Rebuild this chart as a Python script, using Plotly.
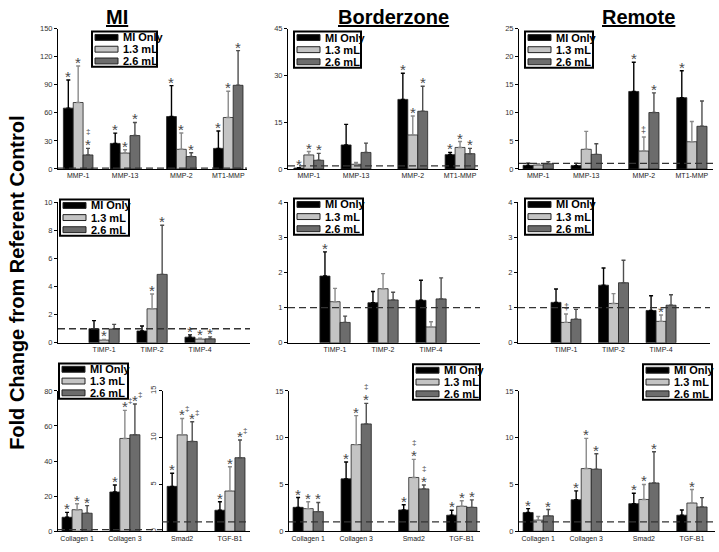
import plotly.graph_objects as go

W, H = 719, 552
FONT = "Liberation Sans, Arial, sans-serif"

# ---------------- data ----------------
series_names = ["MI Only", "1.3 mL", "2.6 mL"]
mmp_labels = ["MMP-1", "MMP-13", "MMP-2", "MT1-MMP"]
timp_labels = ["TIMP-1", "TIMP-2", "TIMP-4"]
ecm_labels = ["Collagen 1", "Collagen 3", "Smad2", "TGF-B1"]

# MI region - MMPs
mi_mmp_mean = [[65, 27.3, 56, 22], [71, 17, 21, 55], [15, 35.7, 13.3, 89.4]]
mi_mmp_err = [[30, 11, 33, 18.5], [39, 3.5, 17.5, 28], [7, 14, 4, 37]]
mi_mmp_sig = [["*", "*", "*", "*"], ["*", "*", "*", "*"], ["‡/*", "*", "*", "*"]]

# Borderzone - MMPs
bz_mmp_mean = [[0.3, 7.7, 22.3, 4.6], [4.5, 1.5, 10.9, 6.9], [2.8, 5.3, 18.5, 4.9]]
bz_mmp_err = [[0.1, 6.6, 8.4, 0.7], [1.1, 0.6, 6.1, 1.9], [2.2, 3.0, 8.0, 1.7]]
bz_mmp_sig = [["*", "", "*", "*"], ["*", "", "*", "*"], ["*", "", "*", "*"]]

# Remote - MMPs
r_mmp_mean = [[0.65, 0.6, 13.8, 12.7], [0.7, 3.5, 3.2, 4.85], [0.93, 2.6, 10.05, 7.6]]
r_mmp_err = [[0.4, 0.4, 5.2, 4.8], [0.25, 3.2, 2.5, 3.6], [0.35, 1.9, 3.5, 4.5]]
r_mmp_sig = [["", "", "*", "*"], ["", "", "‡", ""], ["", "", "*", ""]]

# MI region - TIMPs
mi_timp_mean = [[1.0, 0.84, 0.4], [0.19, 2.42, 0.26], [0.98, 4.87, 0.28]]
mi_timp_err = [[0.58, 0.35, 0.16], [0.05, 1.05, 0.07], [0.33, 3.5, 0.14]]
mi_timp_sig = [["", "", "*"], ["*", "*", "*"], ["", "*", "*"]]

# Borderzone - TIMPs
bz_timp_mean = [[1.9, 1.14, 1.21], [1.17, 1.54, 0.45], [0.58, 1.22, 1.25]]
bz_timp_err = [[0.69, 0.32, 0.57], [0.38, 0.43, 0.15], [0.18, 0.22, 0.6]]
bz_timp_sig = [["*", "", ""], ["", "", ""], ["", "", ""]]

# Remote - TIMPs
r_timp_mean = [[1.15, 1.64, 0.92], [0.58, 1.12, 0.61], [0.67, 1.71, 1.07]]
r_timp_err = [[0.38, 0.49, 0.42], [0.24, 0.28, 0.18], [0.28, 0.64, 0.3]]
r_timp_sig = [["", "", ""], ["‡", "", "*"], ["", "", ""]]

# MI region - ECM (collagens on left axis, Smad2/TGF-B1 on inner axis)
mi_ecm_mean = [[8.0, 22.4, 4.8, 2.25], [12.3, 52.9, 10.3, 4.3], [10.3, 55.0, 9.6, 7.86]]
mi_ecm_err = [[2.8, 4.0, 1.4, 0.9], [3.4, 16.0, 1.75, 2.6], [4.3, 17.5, 2.1, 1.9]]
mi_ecm_sig = [["*", "*", "*", "*"], ["*", "*‡", "*‡", "*"], ["*", "*‡", "*‡", "*‡"]]

# Borderzone - ECM
bz_ecm_mean = [[2.56, 5.6, 2.28, 1.72], [2.42, 9.26, 5.75, 2.67], [2.1, 11.47, 4.53, 2.56]]
bz_ecm_err = [[1.05, 1.8, 0.56, 0.53], [0.74, 3.1, 1.93, 0.6], [0.98, 2.2, 0.42, 0.8]]
bz_ecm_sig = [["*", "*", "*", "*"], ["*", "*", "‡/*", "*"], ["*", "‡/*", "‡/*", "*"]]

# Remote - ECM
r_ecm_mean = [[2.0, 3.37, 2.95, 1.72], [1.19, 6.7, 3.4, 3.02], [1.65, 6.63, 5.16, 2.6]]
r_ecm_err = [[0.42, 0.95, 1.12, 0.56], [0.39, 3.23, 1.6, 1.44], [0.67, 1.65, 3.33, 1.0]]
r_ecm_sig = [["*", "*", "*", ""], ["", "*", "*", "*"], ["*", "*", "*", ""]]

referent_level = 1

# ---------------- layout constants ----------------
mmp_x = [0, 1, 2.2, 3.2]
timp_x = [0, 1, 2]
ecm_x = [0, 1, 2.2, 3.2]

BW = 0.21
BAR_COLORS = ["#000000", "#C4C4C4", "#6C6C6C"]
ERR_COLORS = ["#000000", "#8A8A8A", "#4E4E4E"]
SIG_COLOR = "#4a4a4a"


def fx(p):
    return p / W


def fy(p):
    return 1 - p / H


panels = [
    dict(n=1, labels=mmp_labels, gx=mmp_x, mean=mi_mmp_mean, err=mi_mmp_err, sig=mi_mmp_sig,
         ymax=150, dtick=30, xr=[-0.43, 3.6], xpx=(58, 247), ypx=(24, 167), leg=(92, 27, 157, 63)),
    dict(n=2, labels=mmp_labels, gx=mmp_x, mean=bz_mmp_mean, err=bz_mmp_err, sig=bz_mmp_sig,
         ymax=45, dtick=15, xr=[-0.44, 3.58], xpx=(288, 478), ypx=(24, 167), leg=(294, 27, 361, 64)),
    dict(n=3, labels=mmp_labels, gx=mmp_x, mean=r_mmp_mean, err=r_mmp_err, sig=r_mmp_sig,
         ymax=25, dtick=5, xr=[-0.40, 3.64], xpx=(519, 713), ypx=(24, 167), leg=(525, 27, 593, 64)),
    dict(n=4, labels=timp_labels, gx=timp_x, mean=mi_timp_mean, err=mi_timp_err, sig=mi_timp_sig,
         ymax=10, dtick=2, xr=[-0.96, 3.04], xpx=(58, 250), ypx=(201, 344), leg=(60, 198, 129, 235)),
    dict(n=5, labels=timp_labels, gx=timp_x, mean=bz_timp_mean, err=bz_timp_err, sig=bz_timp_sig,
         ymax=4, dtick=1, xr=[-0.98, 3.02], xpx=(288, 480), ypx=(201, 344), leg=(294, 197, 363, 234)),
    dict(n=6, labels=timp_labels, gx=timp_x, mean=r_timp_mean, err=r_timp_err, sig=r_timp_sig,
         ymax=4, dtick=1, xr=[-1.01, 3.03], xpx=(518, 710), ypx=(201, 344), leg=(525, 197, 593, 234)),
    dict(n=7, labels=ecm_labels, gx=ecm_x, mean=mi_ecm_mean, err=mi_ecm_err, sig=mi_ecm_sig,
         ymax=80, dtick=20, xr=[-0.40, 3.62], xpx=(58, 250), ypx=(393, 536), leg=(59, 365, 128, 401),
         split=2, inner=dict(n=10, ymax=15, dtick=5, xpos=162)),
    dict(n=8, labels=ecm_labels, gx=ecm_x, mean=bz_ecm_mean, err=bz_ecm_err, sig=bz_ecm_sig,
         ymax=15, dtick=5, xr=[-0.40, 3.58], xpx=(289, 480), ypx=(393, 536), leg=(413, 366, 480, 402)),
    dict(n=9, labels=ecm_labels, gx=ecm_x, mean=r_ecm_mean, err=r_ecm_err, sig=r_ecm_sig,
         ymax=15, dtick=5, xr=[-0.40, 3.68], xpx=(519, 715), ypx=(393, 536), leg=(643, 366, 712, 402)),
]


def ax_name(kind, n):
    return kind if n == 1 else f"{kind}{n}"


fig = go.Figure()
layout = dict(
    width=W, height=H, margin=dict(l=0, r=0, t=0, b=0),
    paper_bgcolor="white", plot_bgcolor="white",
    barmode="group", bargap=1 - 3 * BW, bargroupgap=0,
    showlegend=False, font=dict(family=FONT, color="#222"),
)
shapes = []
annotations = []


def y_axis_dict(domain, ymax, dtick, anchor):
    return dict(
        domain=domain, range=[0, ymax], dtick=dtick, tick0=0, anchor=anchor,
        showline=True, linecolor="black", linewidth=1,
        ticks="outside", ticklen=3, tickwidth=1, tickcolor="black",
        tickfont=dict(size=7.5, family=FONT, color="#333"),
        showgrid=False, zeroline=False, fixedrange=True,
    )


def sig_text(text, size, x, y, xref, yref, yshift, xshift=0):
    annotations.append(dict(text=text, x=x, y=y, xref=xref, yref=yref, showarrow=False,
                            yanchor="bottom", xanchor="center", yshift=yshift, xshift=xshift,
                            font=dict(size=size, color=SIG_COLOR, family=FONT)))


def add_sig(code, x, y, xref, yref):
    if code == "‡":
        sig_text("‡", 9, x, y, xref, yref, 0)
    elif code == "‡/*":
        sig_text("*", 15, x, y, xref, yref, -7)
        sig_text("‡", 8, x, y, xref, yref, 10)
    elif code == "*‡":
        sig_text("*", 15, x, y, xref, yref, -7)
        sig_text("‡", 8, x, y, xref, yref, 3, xshift=5)
    else:
        sig_text(code, 15, x, y, xref, yref, -7)


for p in panels:
    n = p["n"]
    xa = ax_name("x", n)
    ya = ax_name("y", n)
    xdom = [fx(p["xpx"][0]), fx(p["xpx"][1])]
    ydom = [fy(p["ypx"][1]), fy(p["ypx"][0])]
    layout[ax_name("xaxis", n)] = dict(
        domain=xdom, range=p["xr"], anchor=ya,
        showline=True, linecolor="black", linewidth=1, ticks="",
        tickmode="array", tickvals=p["gx"], ticktext=p["labels"],
        tickfont=dict(size=7, family=FONT, color="#222"),
        showgrid=False, zeroline=False, fixedrange=True,
    )
    layout[ax_name("yaxis", n)] = y_axis_dict(ydom, p["ymax"], p["dtick"], xa)

    groups = [(0, len(p["gx"]), ya)]
    if "split" in p:
        inner = p["inner"]
        ya2 = ax_name("y", inner["n"])
        groups = [(0, p["split"], ya), (p["split"], len(p["gx"]), ya2)]
        d = y_axis_dict(ydom, inner["ymax"], inner["dtick"], "free")
        d.update(overlaying=ya, position=fx(inner["xpos"]), side="left", tickangle=-90)
        layout[ax_name("yaxis", inner["n"])] = d

    for (a, b, yref) in groups:
        for i, name in enumerate(series_names):
            fig.add_trace(go.Bar(
                x=p["gx"][a:b], y=p["mean"][i][a:b], name=name,
                xaxis=xa, yaxis=yref,
                marker=dict(color=BAR_COLORS[i], line=dict(color="#222", width=0.8)),
                error_y=dict(type="data", symmetric=False, array=p["err"][i][a:b],
                             arrayminus=[0] * (b - a), color=ERR_COLORS[i],
                             thickness=1.4, width=2),
                showlegend=False, hoverinfo="x+y",
            ))
            for j in range(a, b):
                s = p["sig"][i][j]
                if s:
                    add_sig(s, p["gx"][j] + (i - 1) * BW, p["mean"][i][j] + p["err"][i][j], xa, yref)

        # referent control dashed line
        if "split" in p:
            frac = (p["inner"]["xpos"] - p["xpx"][0]) / (p["xpx"][1] - p["xpx"][0])
            x0, x1 = (0, frac) if yref == ya else (frac, 1)
        else:
            x0, x1 = 0, 1
        shapes.append(dict(type="line", xref=f"{xa} domain", yref=yref, x0=x0, x1=x1,
                           y0=referent_level, y1=referent_level, layer="above",
                           line=dict(color="#333", width=1.3, dash="7px,4px")))

    # legend box (drawn)
    lx0, ly0, lx1, ly1 = p["leg"]
    shapes.append(dict(type="rect", xref="paper", yref="paper",
                       x0=fx(lx0), x1=fx(lx1), y0=fy(ly1), y1=fy(ly0),
                       line=dict(color="black", width=2), fillcolor="white", layer="above"))
    row_h = (ly1 - ly0) / 3
    for i, name in enumerate(series_names):
        cy = ly0 + row_h * (i + 0.5)
        shapes.append(dict(type="rect", xref="paper", yref="paper",
                           x0=fx(lx0 + 3), x1=fx(lx0 + 26), y0=fy(cy + 3), y1=fy(cy - 3),
                           fillcolor=BAR_COLORS[i], line=dict(color="#222", width=1), layer="above"))
        annotations.append(dict(text=f"<b>{name}</b>", x=fx(lx0 + 29), y=fy(cy), xref="paper", yref="paper",
                                xanchor="left", yanchor="middle", showarrow=False,
                                font=dict(size=11, color="black", family=FONT)))

# Column titles
for title, cx in [("MI", 117), ("Borderzone", 393), ("Remote", 638)]:
    annotations.append(dict(text=f"<b><u>{title}</u></b>", x=fx(cx), y=fy(12), xref="paper", yref="paper",
                            xanchor="center", yanchor="middle", showarrow=False,
                            font=dict(size=20, color="black", family=FONT)))

# Shared y title
annotations.append(dict(text="<b>Fold Change from Referent Control</b>", x=fx(17), y=fy(283),
                        xref="paper", yref="paper", textangle=-90, showarrow=False,
                        xanchor="center", yanchor="middle",
                        font=dict(size=20, color="black", family=FONT)))

layout["shapes"] = shapes
layout["annotations"] = annotations
fig.update_layout(**layout)
fig.write_html("out.html", config={"displayModeBar": False, "staticPlot": False},
               post_script="document.body.style.margin='0px';document.body.style.overflow='hidden';")
